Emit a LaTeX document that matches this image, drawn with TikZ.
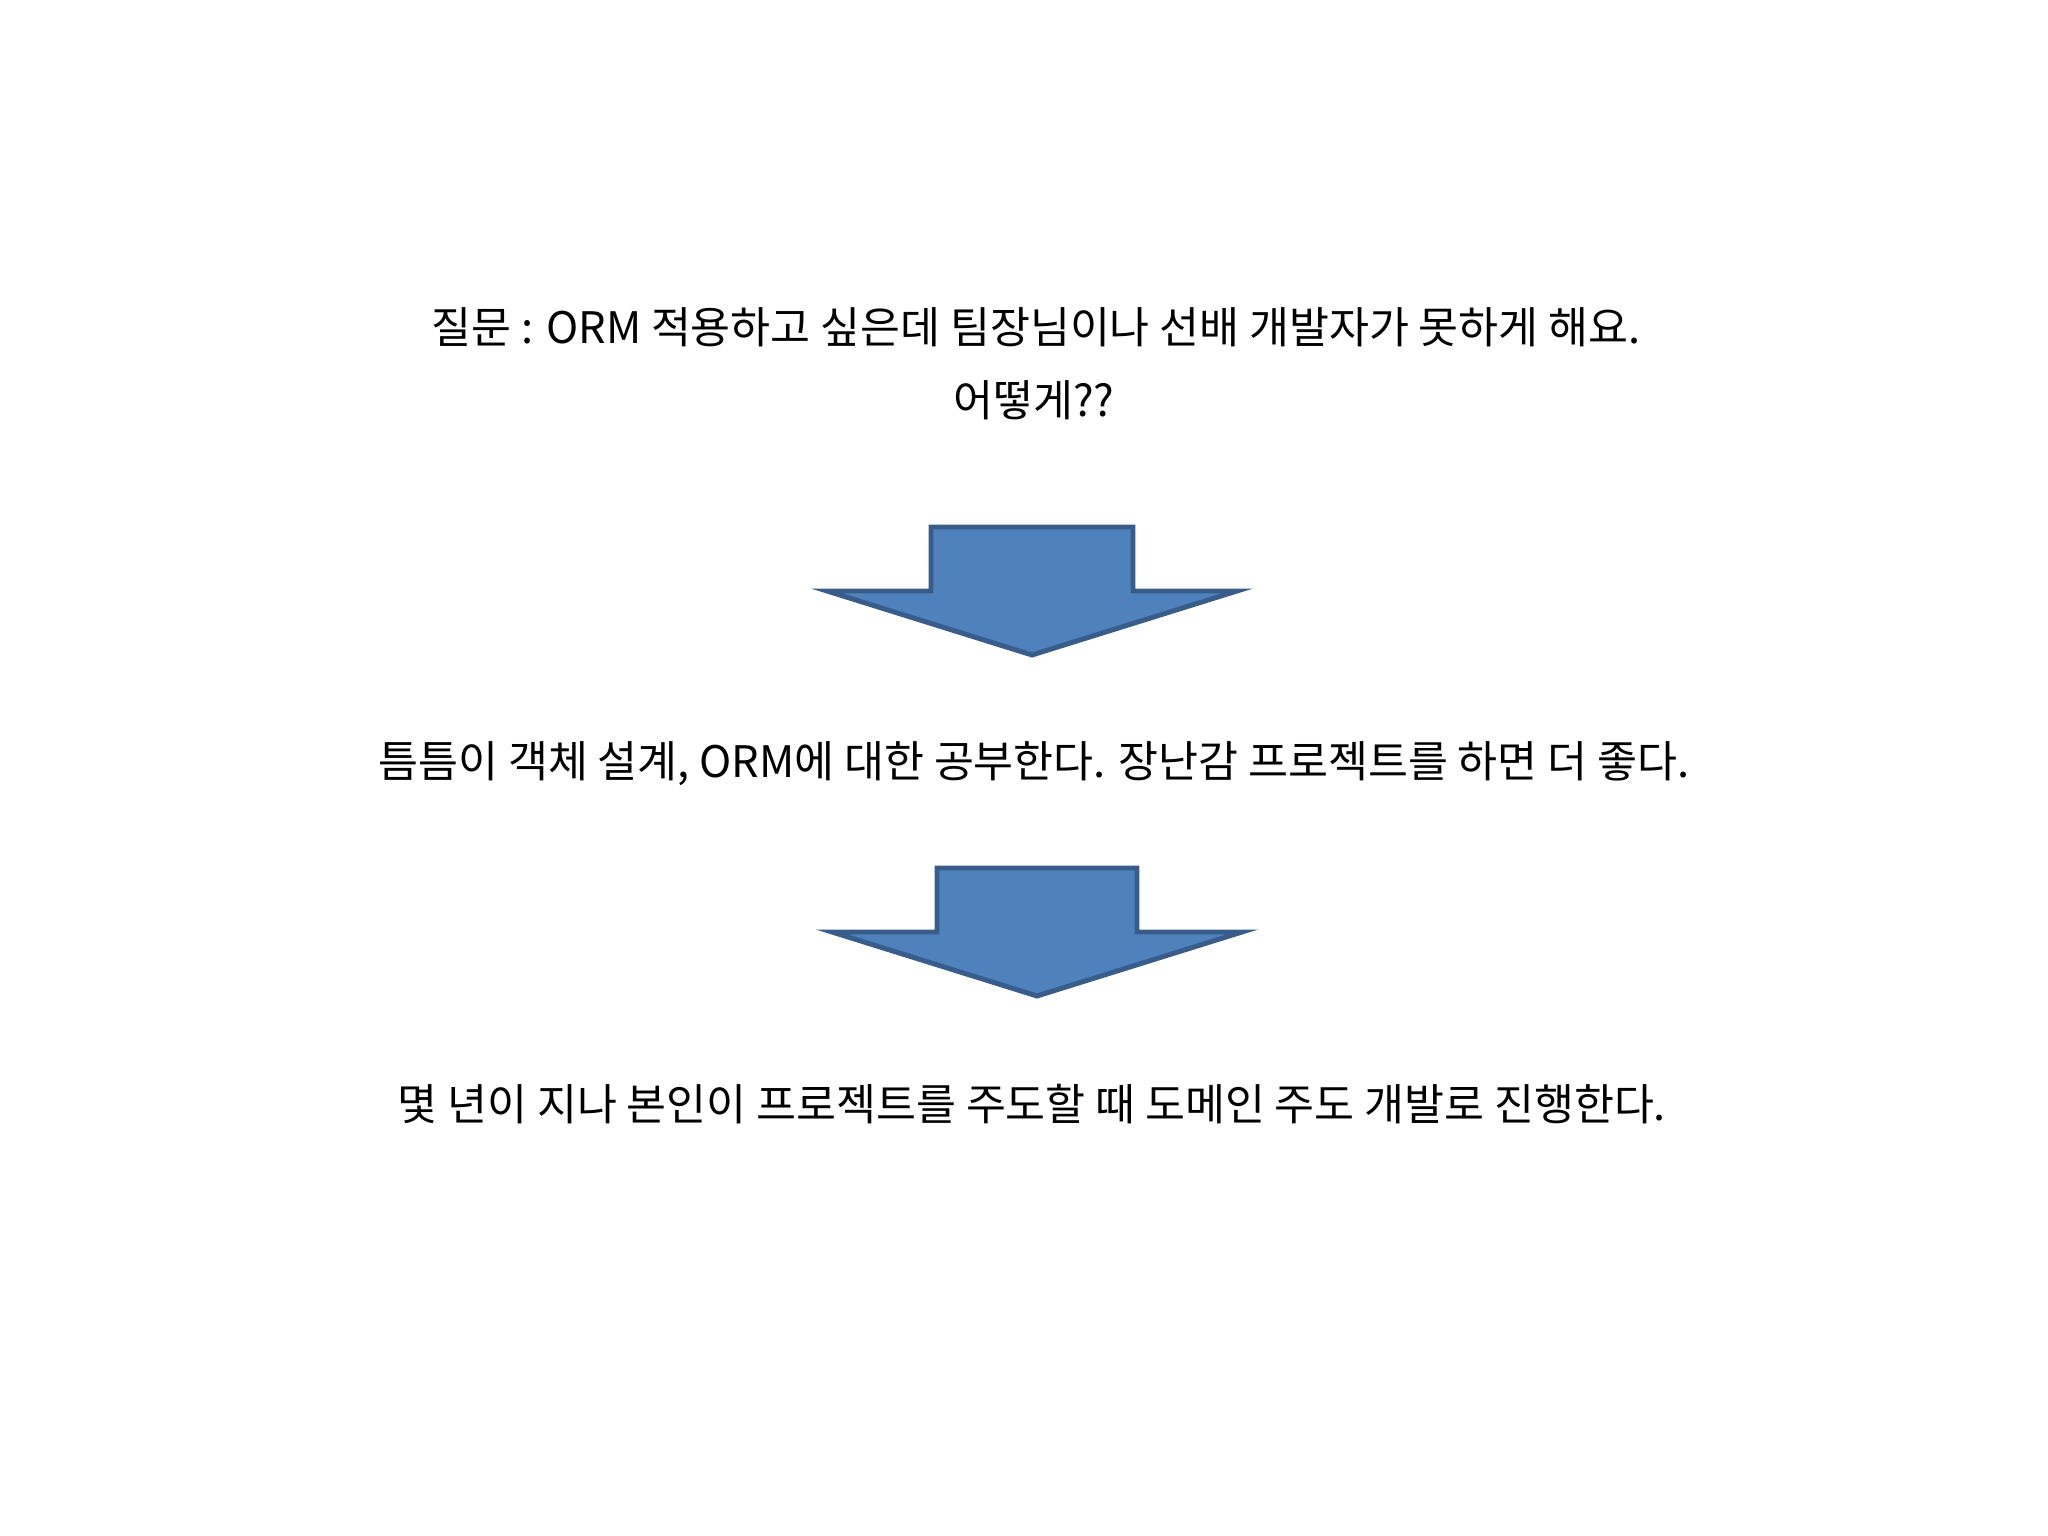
\documentclass[tikz,border=0pt]{standalone}
\usepackage{fontspec}
\setmainfont{Noto Sans CJK KR}
\definecolor{arrowfill}{RGB}{79,129,189}
\definecolor{arrowline}{RGB}{56,93,138}
\begin{document}
\begin{tikzpicture}[x=0.01cm,y=-0.01cm]
        \tikzstyle{txt}=[inner sep=0pt,font=\fontsize{12.35pt}{15pt}\selectfont]
        \tikzstyle{blockarrow}=[fill=arrowfill,draw=arrowline,line width=1.4pt,line join=miter]

      \useasboundingbox (0,0) rectangle (2048,1536);

      \begin{scope}
         \node[txt] (q1) at (1036,327) {질문 : ORM 적용하고 싶은데 팀장님이나 선배 개발자가 못하게 해요.};
         \node[txt] (q2) at (1034,400) {어떻게??};

         \node[txt] (a1) at (1034,764) {틈틈이 객체 설계, ORM에 대한 공부한다. 장난감 프로젝트를 하면 더 좋다.};

         \node[txt] (a2) at (1032,1104) {몇 년이 지나 본인이 프로젝트를 주도할 때 도메인 주도 개발로 진행한다.};

         % first arrow
         \draw[blockarrow] (931,527) -- (1133,527) -- (1133,591) -- (1237,591)
            -- (1032,655) -- (827,591) -- (931,591) -- cycle;

         % second arrow
         \draw[blockarrow] (937,868) -- (1137,868) -- (1137,932) -- (1242,932)
            -- (1037,996) -- (832,932) -- (937,932) -- cycle;
      \end{scope}
    \end{tikzpicture}
\end{document}
